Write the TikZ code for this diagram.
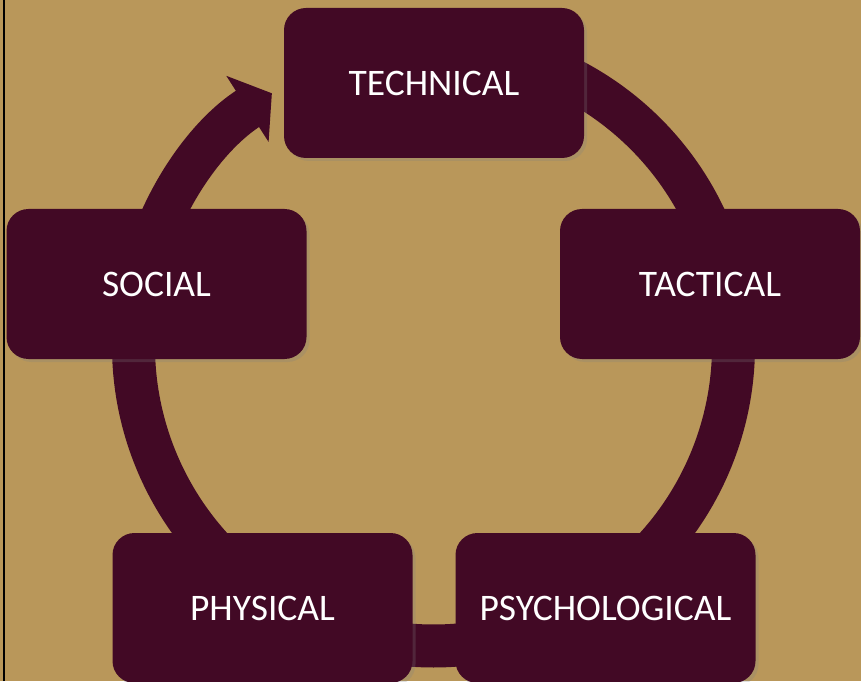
\documentclass[tikz,border=0pt]{standalone}
\usepackage{fontspec}
\setmainfont{Carlito}
\usetikzlibrary{arrows.meta,shadows}

\definecolor{bgtan}{RGB}{185,151,90}
\definecolor{boxmaroon}{RGB}{66,9,37}

\tikzset{
  stage/.style={fill=boxmaroon, rounded corners=22pt, minimum width=300pt,
    minimum height=150pt, inner sep=0pt, text=white,
    font=\fontsize{37.5}{44}\selectfont,
    drop shadow={shadow xshift=3pt, shadow yshift=-3pt, opacity=0.25}},
  ring/.style={draw=boxmaroon, line width=43pt}
}

\begin{document}
\begin{tikzpicture}[x=1pt, y=1pt]
    % page size and background
    \useasboundingbox (0,0) rectangle (861,681);
    \fill[bgtan] (0,0) rectangle (861,681);
    \draw[line width=2pt] (4,0) -- (4,681); % left frame line

    % ring radius and centre
    \def\r{300}
    \coordinate (O) at (433.5,335);

    % ring segments (drawn first, the boxes sit on top of them)
    \draw[ring] (O) ++(90:\r) arc[start angle=90, end angle=13, radius=\r];
    \draw[ring] (O) ++(13:\r) arc[start angle=13, end angle=-57, radius=\r];
    \draw[ring] (O) ++(-57:\r) arc[start angle=-57, end angle=-123, radius=\r];
    \draw[ring] (O) ++(-123:\r) arc[start angle=-123, end angle=-193, radius=\r];

    % last segment with the arrow head (SOCIAL back to TECHNICAL)
    \draw[ring, -{Triangle[length=29pt, width=77pt]}]
        (O) ++(167:\r) arc[start angle=167, end angle=122.6, radius=\r];

    % the five stages
    \node[stage] (technical) at (434,598) {TECHNICAL};
    \node[stage] (tactical) at (710,397) {TACTICAL};
    \node[stage] (psychological) at (605.5,73) {PSYCHOLOGICAL};
    \node[stage] (physical) at (262.5,73) {PHYSICAL};
    \node[stage] (social) at (156.5,397) {SOCIAL};
\end{tikzpicture}
\end{document}
